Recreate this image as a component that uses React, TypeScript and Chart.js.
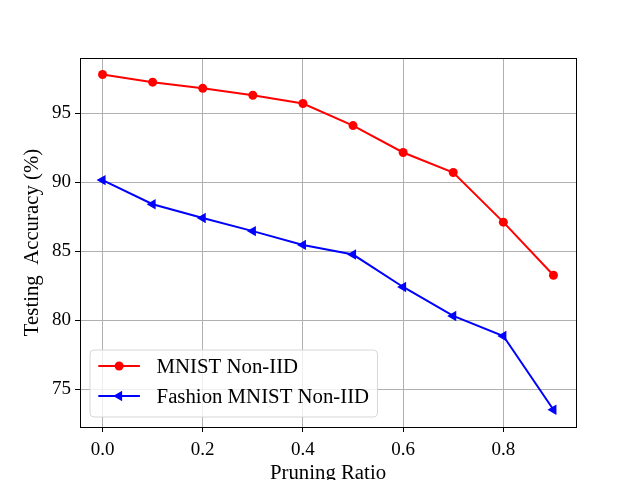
import React, { useEffect, useRef } from "react";
import { Chart, registerables } from "chart.js";

Chart.register(...registerables);

const pruningRatios = [0.0, 0.1, 0.2, 0.3, 0.4, 0.5, 0.6, 0.7, 0.8, 0.9];
const mnistNonIID = [97.8, 97.25, 96.8, 96.3, 95.7, 94.1, 92.15, 90.7, 87.1, 83.25];
const fashionNonIID = [90.15, 88.4, 87.4, 86.45, 85.45, 84.75, 82.4, 80.3, 78.85, 73.5];
const xTicks = [0.0, 0.2, 0.4, 0.6, 0.8];
const yTicks = [75, 80, 85, 90, 95];
const seriesLabels = ["MNIST Non-IID", "Fashion MNIST Non-IID"];
const xTitle = "Pruning Ratio";
const yTitle = "Testing  Accuracy (%)";

const FONT = "'Liberation Serif', 'Times New Roman', serif";
Chart.defaults.font.family = FONT;
Chart.defaults.color = "#000";

const framePlugin = {
  id: "frame",
  afterDatasetsDraw(chart: any) {
    const { ctx, chartArea: a } = chart;
    ctx.save();
    ctx.strokeStyle = "#000";
    ctx.lineWidth = 1;
    ctx.strokeRect(Math.round(a.left) + 0.5, Math.round(a.top) + 0.5, Math.round(a.right - a.left), Math.round(a.bottom - a.top));
    ctx.restore();
  },
};

const legendPlugin = {
  id: "innerLegend",
  afterDraw(chart: any) {
    const { ctx, chartArea: a } = chart;
    const fs = 20.8;
    ctx.save();
    ctx.font = `${fs}px ${FONT}`;
    const labels = chart.data.datasets.map((d: any) => d.label);
    const textW = Math.max(...labels.map((l: string) => ctx.measureText(l).width));
    const pad = 0.4 * fs;
    const handleLen = 2 * fs;
    const handlePad = 0.8 * fs;
    const w = pad + handleLen + handlePad + textW + pad;
    const h = 67;
    const x0 = a.left + 10;
    const y0 = a.bottom - 10 - h;
    const r = 4;
    ctx.beginPath();
    ctx.moveTo(x0 + r, y0);
    ctx.lineTo(x0 + w - r, y0);
    ctx.arcTo(x0 + w, y0, x0 + w, y0 + r, r);
    ctx.lineTo(x0 + w, y0 + h - r);
    ctx.arcTo(x0 + w, y0 + h, x0 + w - r, y0 + h, r);
    ctx.lineTo(x0 + r, y0 + h);
    ctx.arcTo(x0, y0 + h, x0, y0 + h - r, r);
    ctx.lineTo(x0, y0 + r);
    ctx.arcTo(x0, y0, x0 + r, y0, r);
    ctx.closePath();
    ctx.fillStyle = "rgba(255,255,255,0.8)";
    ctx.fill();
    ctx.strokeStyle = "#d6d6d6";
    ctx.lineWidth = 1;
    ctx.stroke();

    chart.data.datasets.forEach((d: any, i: number) => {
      const baseline = y0 + 23 + i * 30;
      const ly = baseline - 7;
      const hx0 = x0 + pad;
      const hx1 = hx0 + handleLen;
      ctx.strokeStyle = d.borderColor;
      ctx.lineWidth = d.borderWidth;
      ctx.beginPath();
      ctx.moveTo(hx0, ly);
      ctx.lineTo(hx1, ly);
      ctx.stroke();
      const cx = (hx0 + hx1) / 2;
      ctx.fillStyle = d.pointBackgroundColor;
      ctx.beginPath();
      if (d.pointStyle === "triangle") {
        const rr = d.pointRadius;
        ctx.moveTo(cx - rr, ly);
        ctx.lineTo(cx + rr * 0.5, ly - rr * 0.866);
        ctx.lineTo(cx + rr * 0.5, ly + rr * 0.866);
        ctx.closePath();
      } else {
        ctx.arc(cx, ly, d.pointRadius, 0, Math.PI * 2);
      }
      ctx.fill();
      ctx.fillStyle = "#000";
      ctx.textBaseline = "alphabetic";
      ctx.textAlign = "left";
      ctx.fillText(d.label, hx1 + handlePad, baseline);
    });
    ctx.restore();
  },
};

export default function App() {
  const ref = useRef<HTMLCanvasElement>(null);
  useEffect(() => {
    document.body.style.margin = "0";
    const canvas = ref.current!;
    const tickFont = { family: FONT, size: 19 };
    const titleFont = { family: FONT, size: 20.8 };
    const chart = new Chart(canvas, {
      type: "line",
      data: {
        datasets: [
          {
            label: seriesLabels[0],
            data: pruningRatios.map((x, i) => ({ x, y: mnistNonIID[i] })),
            borderColor: "#ff0000",
            backgroundColor: "#ff0000",
            pointBackgroundColor: "#ff0000",
            pointBorderWidth: 0,
            pointRadius: 4.5,
            pointStyle: "circle",
            borderWidth: 2,
            tension: 0,
          },
          {
            label: seriesLabels[1],
            data: pruningRatios.map((x, i) => ({ x, y: fashionNonIID[i] })),
            borderColor: "#0000ff",
            backgroundColor: "#0000ff",
            pointBackgroundColor: "#0000ff",
            pointBorderWidth: 0,
            pointRadius: 6,
            pointStyle: "triangle",
            pointRotation: -90,
            borderWidth: 2,
            tension: 0,
          },
        ],
      },
      options: {
        responsive: false,
        animation: false,
        devicePixelRatio: 1,
        layout: { padding: { top: 58, right: 64, left: 0, bottom: 0 } },
        plugins: { legend: { display: false }, tooltip: { enabled: false } },
        scales: {
          x: {
            type: "linear",
            min: -0.045,
            max: 0.945,
            afterBuildTicks: (s: any) => {
              s.ticks = xTicks.map((v) => ({ value: v }));
            },
            afterFit: (s: any) => {
              s.height = 53;
            },
            ticks: {
              font: tickFont,
              color: "#000",
              padding: 7,
              maxRotation: 0,
              autoSkip: false,
              callback: (v: any) => Number(v).toFixed(1),
            },
            grid: { color: "#b0b0b0", lineWidth: 1, tickColor: "#000", tickLength: 5, drawTicks: true },
            border: { display: false },
            title: { display: true, text: xTitle, font: titleFont, color: "#000", padding: { top: 0, bottom: -6 } },
          },
          y: {
            type: "linear",
            min: 72.25,
            max: 99,
            afterBuildTicks: (s: any) => {
              s.ticks = yTicks.map((v) => ({ value: v }));
            },
            afterFit: (s: any) => {
              s.width = 80;
            },
            ticks: {
              font: tickFont,
              color: "#000",
              padding: 4,
              autoSkip: false,
              callback: (v: any) => String(v),
            },
            grid: { color: "#b0b0b0", lineWidth: 1, tickColor: "#000", tickLength: 5, drawTicks: true },
            border: { display: false },
            title: { display: true, text: yTitle, font: titleFont, color: "#000", padding: { top: 20, bottom: 0 } },
          },
        },
      },
      plugins: [framePlugin, legendPlugin],
    } as any);
    return () => chart.destroy();
  }, []);
  return (
    <div style={{ width: 640, height: 480, background: "#fff" }}>
      <canvas ref={ref} width={640} height={480} style={{ display: "block" }} />
    </div>
  );
}
